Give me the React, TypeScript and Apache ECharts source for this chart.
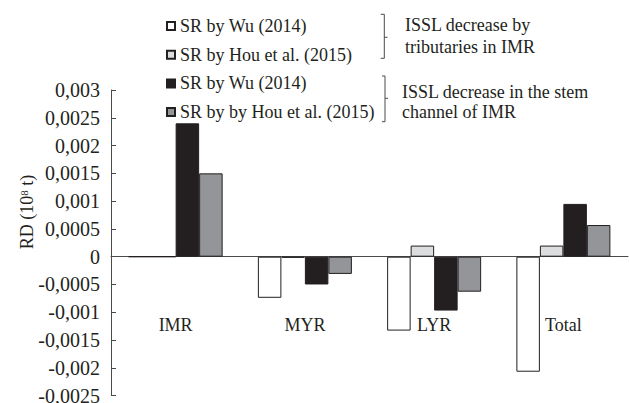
import React, { useEffect, useRef } from 'react';
import * as echarts from 'echarts';

const categories = ['IMR', 'MYR', 'LYR', 'Total'];
const wuTributaries = [0, -0.00074, -0.00133, -0.00207];
const houTributaries = [0, -0.00002, 0.0002, 0.0002];
const wuStem = [0.0024, -0.0005, -0.00097, 0.00095];
const houStem = [0.0015, -0.00031, -0.00063, 0.00057];
const seriesKeys = ['wuTrib', 'houTrib', 'wuStem', 'houStem'];
const seriesLabels = [
  'SR by Wu (2014)',
  'SR by Hou et al. (2015)',
  'SR by Wu (2014)',
  'SR by by Hou et al. (2015)',
];
const noteTributaries = ['ISSL decrease by', 'tributaries in IMR'];
const noteStem = ['ISSL decrease in the stem', 'channel of IMR'];
const yMin = -0.0025;
const yMax = 0.003;
const yStep = 0.0005;

const FONT = '"Liberation Serif", "Times New Roman", serif';
const INK = '#231f20';
const LINE = '#4a4a4a';

const fills = ['#ffffff', '#dcddde', '#231f20', '#939598'];

function fmt(v: number): string {
  const r = Number(v.toFixed(5));
  if (r === 0) return '0';
  return String(r).replace('.', ',');
}

export default function App() {
  const ref = useRef<HTMLDivElement>(null);
  useEffect(() => {
    if (!ref.current) return;
    const chart = echarts.init(ref.current, undefined, { renderer: 'svg' });
    const values = [wuTributaries, houTributaries, wuStem, houStem];
    const textStyle = { fontFamily: FONT, fontSize: 18, fill: INK };
    chart.setOption({
      animation: false,
      backgroundColor: '#ffffff',
      grid: { left: 111, right: 1, top: 90, bottom: 7.4, containLabel: false, outerBoundsMode: 'none' },
      legend: {
        show: true,
        orient: 'vertical',
        left: 166,
        top: 17,
        padding: 0,
        itemWidth: 8,
        itemHeight: 8,
        itemGap: 10.7,
        icon: 'rect',
        selectedMode: false,
        data: seriesKeys,
        formatter: (name: string) => seriesLabels[seriesKeys.indexOf(name)],
        textStyle: { fontFamily: FONT, fontSize: 18, color: INK, lineHeight: 18 },
      },
      xAxis: [
        {
          type: 'category',
          data: categories,
          axisLine: { show: true, onZero: true, lineStyle: { color: LINE, width: 1 } },
          axisTick: { show: false },
          axisLabel: { show: false },
          splitLine: { show: false },
        },
        {
          type: 'category',
          data: categories,
          position: 'bottom',
          axisLine: { show: false, onZero: false },
          axisTick: { show: false },
          axisLabel: { margin: -79.6, fontFamily: FONT, fontSize: 18, color: INK, lineHeight: 18 },
          splitLine: { show: false },
        },
      ],
      yAxis: {
        type: 'value',
        min: yMin,
        max: yMax,
        interval: yStep,
        axisLine: { show: true, lineStyle: { color: LINE, width: 1 } },
        axisTick: { show: true, inside: true, length: 5, lineStyle: { color: LINE } },
        axisLabel: { margin: 11, fontFamily: FONT, fontSize: 20, color: INK, formatter: (v: number) => fmt(v) },
        splitLine: { show: false },
      },
      series: values.map((data, i) => ({
        type: 'bar',
        name: seriesKeys[i],
        xAxisIndex: 0,
        data,
        barWidth: 23.5,
        barGap: '0%',
        itemStyle: { color: fills[i], borderColor: INK, borderWidth: 1 },
      })),
      graphic: [
        { type: 'polyline', shape: { points: [[380.7, 14.3], [384.3, 14.3], [384.3, 58.3], [380.7, 58.3]] }, style: { stroke: LINE, lineWidth: 1, fill: null } },
        { type: 'line', shape: { x1: 384.3, y1: 37.3, x2: 387.5, y2: 37.3 }, style: { stroke: LINE, lineWidth: 1 } },
        { type: 'polyline', shape: { points: [[382, 76], [385, 76], [385, 121.7], [382, 121.7]] }, style: { stroke: LINE, lineWidth: 1, fill: null } },
        { type: 'line', shape: { x1: 385, y1: 98.3, x2: 388, y2: 98.3 }, style: { stroke: LINE, lineWidth: 1 } },
        { type: 'text', x: 405, y: 25, style: { ...textStyle, text: noteTributaries[0], align: 'left', verticalAlign: 'middle' } },
        { type: 'text', x: 405, y: 46.7, style: { ...textStyle, text: noteTributaries[1], align: 'left', verticalAlign: 'middle' } },
        { type: 'text', x: 402, y: 92, style: { ...textStyle, text: noteStem[0], align: 'left', verticalAlign: 'middle' } },
        { type: 'text', x: 402, y: 112, style: { ...textStyle, text: noteStem[1], align: 'left', verticalAlign: 'middle' } },
        {
          type: 'text',
          x: 27,
          y: 212,
          rotation: Math.PI / 2,
          style: {
            text: '{a|RD (10}{s|8}{a| t)}',
            align: 'center',
            verticalAlign: 'middle',
            fill: INK,
            rich: {
              a: { fontFamily: FONT, fontSize: 18, fill: INK, lineHeight: 18 },
              s: { fontFamily: FONT, fontSize: 11, fill: INK, lineHeight: 11, verticalAlign: 'top' },
            },
          },
        },
      ],
    });
    return () => chart.dispose();
  }, []);
  return <div ref={ref} style={{ position: 'fixed', left: 0, top: 0, width: 629, height: 403 }} />;
}
